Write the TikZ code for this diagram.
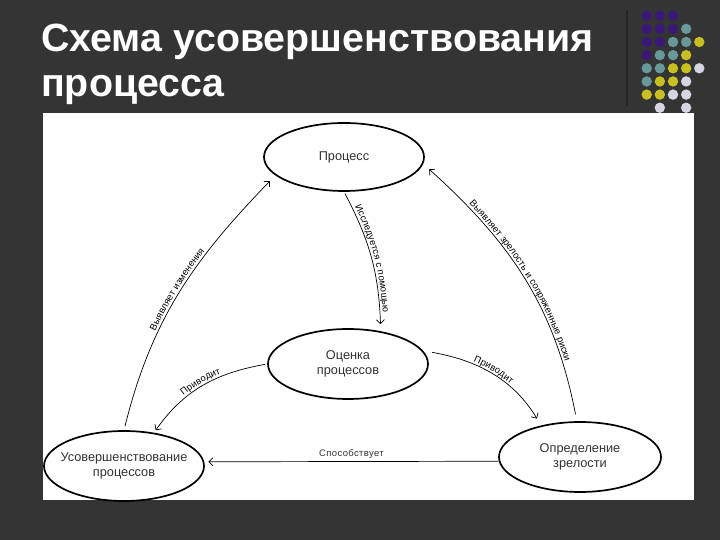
\documentclass[tikz,border=0pt]{standalone}
\usepackage{fontspec}
\setmainfont{Liberation Sans}
\usetikzlibrary{shapes.geometric,arrows.meta,decorations.text}

\definecolor{slidebg}{RGB}{52,52,52}
\definecolor{dotpurple}{RGB}{58,24,118}
\definecolor{dotteal}{RGB}{104,152,152}
\definecolor{dotyellow}{RGB}{200,192,32}
\definecolor{dotgrey}{RGB}{214,214,226}
\newcommand{\labfont}{\fontsize{9.5}{10}\selectfont\addfontfeatures{LetterSpace=4}}

\tikzset{
  headline/.style={text=white, inner sep=0pt, font=\bfseries\fontsize{39.5}{45}\selectfont},
  stage/.style={draw, ellipse, line width=1.7bp, minimum width=160bp, minimum height=70bp,
    inner sep=0pt, align=center, text=black!80, font=\fontsize{12.8}{15}\selectfont},
  link/.style={line width=0.7bp},
  fwd/.style={link, -{Straight Barb[length=4bp,width=8bp]}},
  bwd/.style={link, {Straight Barb[length=4bp,width=8bp]}-},
  lab/.style={font=\labfont, text=black!80, inner sep=0pt},
  along/.style={postaction={decorate, decoration={text along path, text align=center,
    raise=3bp, text={|\labfont|#1}}}}
}

\begin{document}
\begin{tikzpicture}[x=1bp,y=1bp]
\useasboundingbox (0,0) rectangle (720,540);
\fill[slidebg] (0,0) rectangle (720,540);

% corner dots
\foreach \row [count=\r from 0] in {{0/dotpurple,1/dotpurple,2/dotpurple},
    {0/dotpurple,1/dotpurple,2/dotpurple,3/dotteal},
    {0/dotpurple,1/dotpurple,2/dotteal,3/dotteal,4/dotyellow},
    {0/dotpurple,1/dotteal,2/dotteal,3/dotyellow},
    {0/dotteal,1/dotteal,2/dotyellow,3/dotyellow,4/dotgrey},
    {0/dotteal,1/dotyellow,2/dotyellow,3/dotgrey},
    {0/dotyellow,1/dotyellow,2/dotgrey,3/dotgrey},
    {1/dotgrey,3/dotgrey}}
  \foreach \c/\col in \row
    \fill[\col] ({646.7+13.15*\c},{524.3-13.15*\r}) circle (5.2);
\draw[line width=1.5bp, black!85] (627,530) -- (627,434);
\fill[white] (43,40) rectangle (694,427);

\node[headline, anchor=base west] (head1) at (41,488) {Схема усовершенствования};
\node[headline, anchor=base west] (head2) at (41,443) {процесса};

% stages
\node[stage, minimum height=68bp] (proc) at (344,383) {Процесс};
\node[stage] (eval) at (348,176) {Оценка\\процессов};
\node[stage, inner xsep=-8bp] (impr) at (124,74) {Усовершенствование\\процессов};
\node[stage, minimum width=162bp] (mat) at (580,83) {Определение\\зрелости};

% connectors
\draw[fwd, shorten <=2bp, shorten >=7bp, along={Исследуется с помощью}] (proc.south) to[out=-62,in=92] (eval.45);
\draw[fwd, shorten <=4bp, shorten >=8bp, along={Выявляет изменения}] (impr.north) to[out=76,in=226] (proc.195);
\draw[bwd, shorten <=8bp, shorten >=7bp, along={Выявляет зрелость и сопряженные риски}] (proc.-5) to[out=-42,in=101] (mat.95);
\draw[bwd, shorten <=3bp, shorten >=2bp, along={Приводит}] (impr.48) to[out=55,in=190] (eval.west);
\draw[fwd, shorten <=9bp, shorten >=8bp, along={Приводит}] (eval.10) to[out=-10,in=121] (mat.141);
\draw[bwd, shorten <=4bp] (impr.3) -- node[lab, above=3bp] {Способствует} (mat.183);
\end{tikzpicture}
\end{document}
